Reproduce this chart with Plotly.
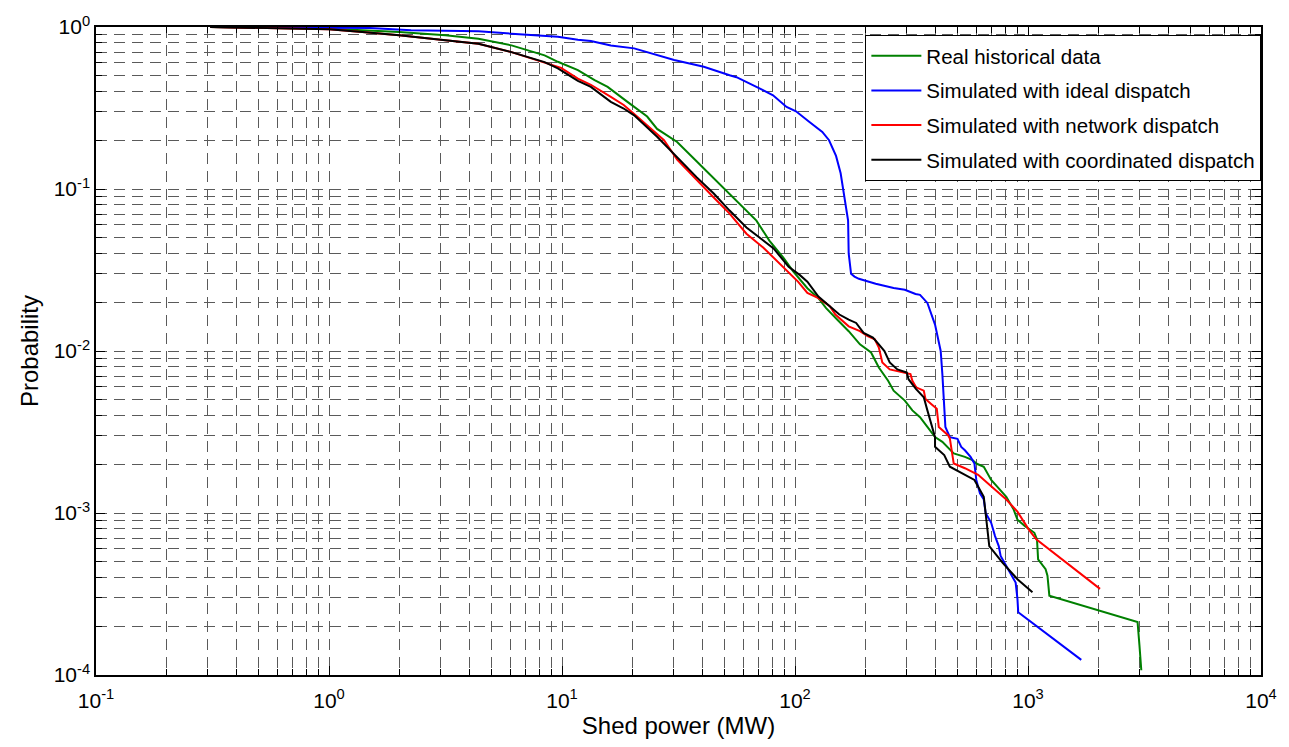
import plotly.graph_objects as go

# Complementary cumulative distribution of shed power (log-log)

hist_x = [0.309, 0.62, 1.0, 1.39, 2.0, 3.16, 4.38, 6.07, 8.42, 9.6, 11.7, 13.8, 15.7, 19.1,
          23.2, 25.6, 31.2, 37.9, 46.1, 56.1, 68.3, 77.6, 89.1, 98.2, 113, 126, 136, 152, 170,
          190, 212, 229, 251, 265, 296, 319, 344, 370, 399, 429, 480, 536, 578, 600, 646, 695,
          735, 807, 868, 901, 971, 1065, 1093, 1105, 1190, 1212, 1235, 2953, 3008, 3064]
hist_p = [1.0, 0.988, 0.975, 0.955, 0.931, 0.888, 0.847, 0.77, 0.668, 0.61, 0.542, 0.47, 0.427,
          0.345, 0.28, 0.235, 0.195, 0.148, 0.112, 0.085, 0.0638, 0.048, 0.0377, 0.031, 0.0244,
          0.0212, 0.0184, 0.0156, 0.01325, 0.011, 0.0098, 0.0079, 0.00655, 0.00569, 0.00494,
          0.0043, 0.0039, 0.0034, 0.00294, 0.00275, 0.00233, 0.00222, 0.00212, 0.00202, 0.00193,
          0.0016, 0.00146, 0.00126, 0.00105, 0.00091, 0.00083, 0.000755, 0.000687, 0.000518,
          0.00045, 0.00041, 0.000309, 0.000212, 0.000153, 0.000107]

ideal_x = [0.309, 1.0, 1.5, 2.25, 4.38, 6.07, 8.42, 9.6, 11.7, 13.3, 16.2, 19.6, 20.4, 30.3,
           40.6, 52.4, 56.1, 68.3, 80.5, 92, 101, 115, 131, 140, 150, 157, 162, 169, 170, 174,
           180, 188, 222, 265, 296, 329, 344, 370, 399, 414, 422, 429, 437, 442, 462, 498, 517,
           536, 567, 589, 600, 622, 646, 658, 695, 722, 749, 763, 807, 853, 885, 901, 908, 1693]
ideal_p = [1.0, 0.995, 0.985, 0.954, 0.94, 0.909, 0.888, 0.871, 0.835, 0.82, 0.77, 0.75, 0.738,
           0.625, 0.568, 0.504, 0.49, 0.427, 0.379, 0.321, 0.302, 0.26, 0.225, 0.2, 0.16, 0.125,
           0.094, 0.0638, 0.04, 0.03, 0.0288, 0.0279, 0.026, 0.0245, 0.0239, 0.0225, 0.0222,
           0.0198, 0.01455, 0.0115, 0.01, 0.0072, 0.0045, 0.0034, 0.00294, 0.00287, 0.00256,
           0.00244, 0.00222, 0.00202, 0.0016, 0.00132, 0.00121, 0.001, 0.00087, 0.00072,
           0.000625, 0.000543, 0.000471, 0.000409, 0.000372, 0.000295, 0.000244, 0.000124]

network_x = [0.309, 0.615, 1.0, 1.39, 2.0, 3.16, 4.38, 6.07, 8.42, 9.91, 11.7, 13.3, 16.2, 18.4,
             21, 27.4, 31.2, 37.9, 44.8, 52.4, 61.9, 73.2, 83.2, 94.5, 103, 113, 126, 141, 149,
             170, 190, 205, 220, 229, 237, 255, 296, 313, 319, 331, 357, 363, 384, 406, 414, 437,
             454, 462, 471, 480, 536, 611, 695, 807, 901, 1008, 1085, 2038]
network_p = [1.0, 0.986, 0.967, 0.931, 0.888, 0.827, 0.788, 0.70, 0.607, 0.56, 0.48, 0.44, 0.37,
             0.33, 0.28, 0.2, 0.152, 0.113, 0.0886, 0.0705, 0.053, 0.0434, 0.0361, 0.030, 0.0268,
             0.0228, 0.0212, 0.0189, 0.0168, 0.0142, 0.01325, 0.01235, 0.0118, 0.0105, 0.0085,
             0.0077, 0.00736, 0.0072, 0.00655, 0.00597, 0.00569, 0.00506, 0.00471, 0.0044,
             0.0034, 0.00316, 0.00302, 0.00288, 0.00233, 0.00202, 0.00189, 0.00172, 0.00146,
             0.00121, 0.00102, 0.00079, 0.000687, 0.00034]

coord_x = [0.309, 0.615, 1.0, 1.39, 2.0, 3.16, 4.38, 6.07, 8.42, 9.6, 11.7, 13.3, 16.2, 18.4,
           20.4, 25.6, 31.2, 37.9, 44.8, 52.4, 61.9, 73.2, 80.9, 93.9, 105, 113, 126, 141, 155,
           170, 183, 197, 216, 229, 242, 255, 275, 302, 307, 331, 357, 370, 384, 399, 399, 437,
           462, 589, 646, 658, 670, 682, 777, 901, 1045]
coord_p = [1.0, 0.986, 0.967, 0.931, 0.888, 0.827, 0.788, 0.70, 0.607, 0.555, 0.465, 0.427,
           0.345, 0.314, 0.285, 0.21, 0.157, 0.118, 0.0938, 0.0736, 0.0578, 0.048, 0.043,
           0.0331, 0.0294, 0.0268, 0.0217, 0.0189, 0.0168, 0.0156, 0.0149, 0.01294, 0.0121,
           0.011, 0.01, 0.0085, 0.0077, 0.00736, 0.0067, 0.00582, 0.00518, 0.0043, 0.00356,
           0.00294, 0.00256, 0.00228, 0.00193, 0.0016, 0.00126, 0.001, 0.000755, 0.000625,
           0.000494, 0.00039, 0.000324]

x_major = [0.1, 1, 10, 100, 1000, 10000]
x_labels = ["10<sup>-1</sup>", "10<sup>0</sup>", "10<sup>1</sup>", "10<sup>2</sup>",
            "10<sup>3</sup>", "10<sup>4</sup>"]
y_major = [1e-4, 1e-3, 1e-2, 1e-1, 1]
y_labels = ["10<sup>-4</sup>", "10<sup>-3</sup>", "10<sup>-2</sup>", "10<sup>-1</sup>",
            "10<sup>0</sup>"]

x_minor = [m * 10.0 ** e for e in range(-1, 4) for m in range(2, 10)]
y_minor = [m * 10.0 ** e for e in range(-4, 0) for m in range(2, 10)]

series = [
    ("Real historical data", hist_x, hist_p, "#008000"),
    ("Simulated with ideal dispatch", ideal_x, ideal_p, "#0000ff"),
    ("Simulated with network dispatch", network_x, network_p, "#ff0000"),
    ("Simulated with coordinated dispatch", coord_x, coord_p, "#000000"),
]

FONT = "Liberation Sans, Arial, Helvetica, sans-serif"
GRID = "#5a5a5a"
DASH = "11px,7px"

fig = go.Figure()
for i, (name, xs, ps, color) in enumerate(series):
    fig.add_trace(go.Scatter(x=xs, y=ps, mode="lines", name=name, legendgroup=f"g{i}",
                             line=dict(color=color, width=2)))

axis_common = dict(
    type="log",
    tickmode="array",
    showgrid=True,
    gridcolor=GRID,
    gridwidth=1,
    griddash=DASH,
    ticks="inside",
    ticklen=9,
    tickwidth=1,
    tickcolor="black",
    showline=True,
    linecolor="black",
    linewidth=1.5,
    mirror="allticks",
    zeroline=False,
    tickfont=dict(family=FONT, size=21, color="black"),
)
minor_common = dict(tickmode="array", showgrid=True, gridcolor=GRID, gridwidth=1,
                    griddash=DASH, ticks="inside", ticklen=6, tickcolor="black")

fig.update_xaxes(
    **axis_common,
    range=[-1, 4],
    tickvals=x_major,
    ticktext=x_labels,
    ticklabelstandoff=6,
    minor=dict(tickvals=x_minor, **minor_common),
    title=dict(text="Shed power (MW)", font=dict(family=FONT, size=24, color="black"),
               standoff=6),
)
fig.update_yaxes(
    **axis_common,
    range=[-4, 0],
    tickvals=y_major,
    ticktext=y_labels,
    minor=dict(tickvals=y_minor, **minor_common),
    title=dict(text="Probability", font=dict(family=FONT, size=24, color="black"),
               standoff=8),
)

fig.update_layout(
    width=1289,
    height=747,
    margin=dict(l=96, r=21, t=27, b=67),
    paper_bgcolor="white",
    plot_bgcolor="white",
    font=dict(family=FONT, color="black"),
    showlegend=True,
    legend=dict(
        x=0.6604, y=0.9877, xanchor="left", yanchor="top",
        bgcolor="white", bordercolor="black", borderwidth=1,
        font=dict(family=FONT, size=20.5, color="black"),
        itemwidth=50,
        tracegroupgap=5,
    ),
)

fig.write_html("out.html")
